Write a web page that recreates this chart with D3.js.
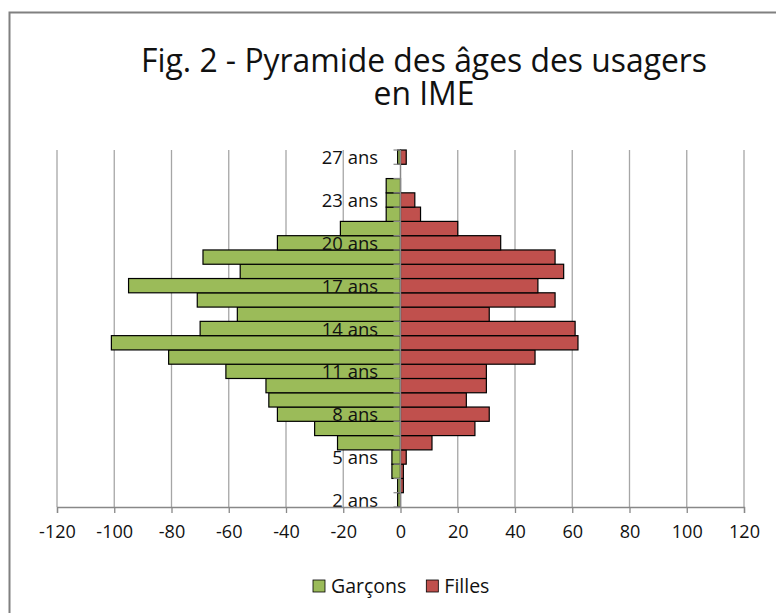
<!DOCTYPE html>
<html>
<head>
<meta charset="utf-8">
<script src="https://cdn.jsdelivr.net/npm/d3@7/dist/d3.min.js"></script>
<style>
  html, body { margin: 0; padding: 0; background: #fff; }
  svg { display: block; }
</style>
</head>
<body>
<svg id="chart" width="776" height="613"></svg>
<script>
// ages from youngest to oldest (no usager aged 26)
var ages = ['2 ans','3 ans','4 ans','5 ans','6 ans','7 ans','8 ans','9 ans','10 ans','11 ans',
            '12 ans','13 ans','14 ans','15 ans','16 ans','17 ans','18 ans','19 ans','20 ans',
            '21 ans','22 ans','23 ans','24 ans','25 ans','27 ans'];
var garcons = [-1, -1, -3, -3, -22, -30, -43, -46, -47, -61, -81, -101, -70, -57, -71, -95,
               -56, -69, -43, -21, -5, -5, -5, 0, -1];
var filles = [0, 1, 1, 2, 11, 26, 31, 23, 30, 30, 47, 62, 61, 31, 54, 48, 57, 54, 35, 20,
              7, 5, 0, 0, 2];
var xTicks = [-120, -100, -80, -60, -40, -20, 0, 20, 40, 60, 80, 100, 120];
var shownAges = ['2 ans','5 ans','8 ans','11 ans','14 ans','17 ans','20 ans','23 ans','27 ans'];
var titleLines = ['Fig. 2 - Pyramide des âges des usagers', 'en IME'];
var series = [
    {name: 'Garçons', values: garcons, color: '#9BBB59'},
    {name: 'Filles', values: filles, color: '#C0504D'}
];

var font = "'Open Sans', 'DejaVu Sans', sans-serif";
var svg = d3.select('#chart');

var plot = {left: 57, right: 744, top: 150, bottom: 507};

var x = d3.scaleLinear().domain([-120, 120]).range([plot.left, plot.right]);
var y = d3.scaleBand().domain(ages).range([plot.bottom, plot.top]).paddingInner(0).paddingOuter(0);

// squeeze text horizontally a bit (reference font is narrower)
function squeeze(sel, ratio) {
    sel.each(function() {
        var w = this.getComputedTextLength();
        d3.select(this).attr('textLength', w * ratio).attr('lengthAdjust', 'spacingAndGlyphs');
    });
}

// chart area border (only top and left visible in the shot)
svg.append('path')
    .attr('d', 'M9.5,613 V12.5 H776')
    .attr('fill', 'none')
    .attr('stroke', '#808080')
    .attr('stroke-width', 2);

// title
var title = svg.append('text')
    .attr('text-anchor', 'middle')
    .attr('font-family', font)
    .attr('font-size', 32)
    .attr('fill', '#111');
var tlines = title.selectAll('tspan').data(titleLines).enter().append('tspan')
    .attr('x', 424)
    .attr('y', function(d, i) { return 72 + i * 33; })
    .text(function(d) { return d; });
var ratio = 566 / tlines.node().getComputedTextLength();
squeeze(tlines, ratio);

// vertical gridlines
svg.append('g').selectAll('line').data(xTicks).enter().append('line')
    .attr('x1', function(d) { return x(d); })
    .attr('x2', function(d) { return x(d); })
    .attr('y1', plot.top)
    .attr('y2', plot.bottom)
    .attr('stroke', '#A6A6A6')
    .attr('stroke-width', 1.3);

// bars
series.forEach(function(s) {
    svg.append('g').selectAll('rect').data(s.values).enter().append('rect')
        .attr('x', function(d) { return x(Math.min(0, d)); })
        .attr('width', function(d) { return Math.abs(x(d) - x(0)); })
        .attr('y', function(d, i) { return y(ages[i]); })
        .attr('height', y.bandwidth())
        .attr('fill', s.color)
        .attr('stroke', '#000')
        .attr('stroke-width', 1.2);
});

// category axis at zero
var yAxis = svg.append('g');
yAxis.append('line')
    .attr('x1', x(0)).attr('x2', x(0))
    .attr('y1', plot.top).attr('y2', plot.bottom)
    .attr('stroke', '#888').attr('stroke-width', 1.3);
var bounds = ages.map(function(a) { return y(a); }).concat([plot.bottom]);
yAxis.selectAll('line.tick').data(bounds).enter().append('line')
    .attr('class', 'tick')
    .attr('x1', x(0) - 7).attr('x2', x(0))
    .attr('y1', function(d) { return d; })
    .attr('y2', function(d) { return d; })
    .attr('stroke', '#888').attr('stroke-width', 1.2);
var catLabels = yAxis.selectAll('text').data(shownAges).enter().append('text')
    .attr('x', 378)
    .attr('y', function(d) { return y(d) + y.bandwidth() / 2 + 7; })
    .attr('text-anchor', 'end')
    .attr('font-family', font)
    .attr('font-size', 19)
    .attr('fill', '#111')
    .text(function(d) { return d; });
squeeze(catLabels, 0.97);

// value axis
var xAxis = svg.append('g').attr('transform', 'translate(0,' + plot.bottom + ')')
    .call(d3.axisBottom(x).tickValues(xTicks).tickSize(6).tickPadding(12)
        .tickFormat(function(d) { return d; }));
xAxis.select('.domain').attr('stroke', '#888').attr('stroke-width', 1.3);
xAxis.selectAll('.tick line').attr('stroke', '#888').attr('stroke-width', 1.3);
xAxis.selectAll('.tick text')
    .attr('font-family', font)
    .attr('font-size', 19)
    .attr('fill', '#111');
squeeze(xAxis.selectAll('.tick text'), 0.95);

// legend
var legend = svg.append('g').attr('transform', 'translate(313,580)');
var lx = 0;
series.forEach(function(s) {
    var item = legend.append('g').attr('transform', 'translate(' + lx + ',0)');
    item.append('rect')
        .attr('width', 12).attr('height', 12)
        .attr('fill', s.color)
        .attr('stroke', '#000').attr('stroke-width', 0.8);
    var t = item.append('text')
        .attr('x', 18).attr('y', 13)
        .attr('font-family', font)
        .attr('font-size', 19.5)
        .attr('fill', '#111')
        .text(s.name);
    lx += 18 + t.node().getComputedTextLength() + 20;
});
</script>
</body>
</html>
